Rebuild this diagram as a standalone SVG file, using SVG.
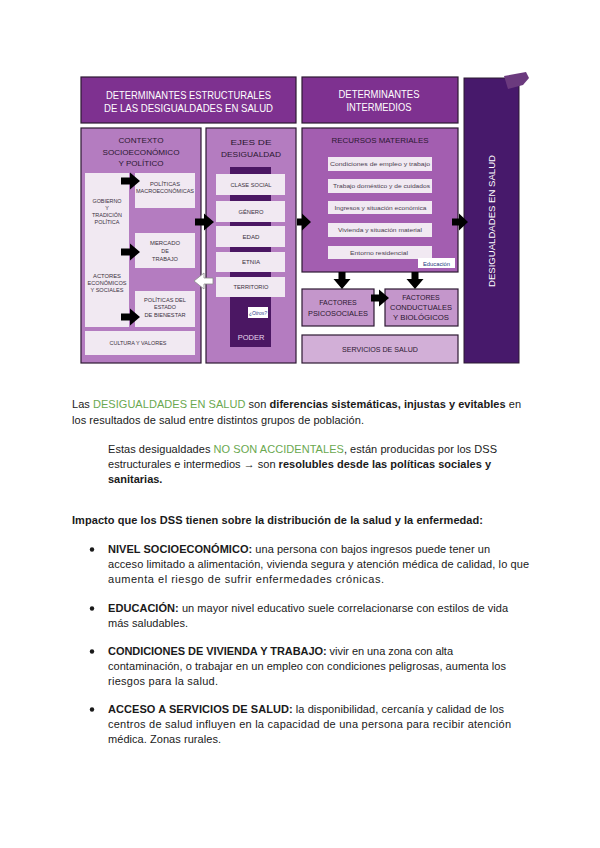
<svg xmlns="http://www.w3.org/2000/svg" width="600" height="848" viewBox="0 0 600 848">
<style>
.hdr{fill:#7e3190;stroke:#2d1a33;stroke-width:1.2}
.pan{fill:#b47cc0;stroke:#2d1a33;stroke-width:1.2}
.lt{fill:#f1e9f2}
.it{fill:#f1e9f2}
.dk{fill:#4b1763}
.rec{fill:#a35eb0;stroke:#2d1a33;stroke-width:1.2}
.fac{fill:#c496cb;stroke:#2d1a33;stroke-width:1.2}
.srv{fill:#d2afd7;stroke:#2d1a33;stroke-width:1.2}
.des{fill:#47196b;stroke:#2d1a33;stroke-width:1}
text{font-family:"Liberation Sans",Arial,sans-serif}
.ht{fill:#ffffff;font-size:10px;text-anchor:middle}
.pt{fill:#2b1730;font-size:8px;text-anchor:middle}
.st{fill:#3a3040;font-size:5.4px;text-anchor:middle}
.et{fill:#3a3040;font-size:5.8px;text-anchor:middle}
.rt{fill:#4a4050;font-size:5.8px;text-anchor:middle}
.ft{fill:#2b1730;font-size:7px;text-anchor:middle}
.body{fill:#1a1a1a;font-size:11px}
.g{fill:#6aa84f}
.b{font-weight:bold}
.arr{fill:#000000}
</style>
<rect width="600" height="848" fill="#ffffff"/>

<g id="header-estructurales">
<rect class="hdr" x="81" y="77" width="215" height="46"/>
<text class="ht" x="188.5" y="98.5" textLength="165" lengthAdjust="spacingAndGlyphs">DETERMINANTES ESTRUCTURALES</text>
<text class="ht" x="188.5" y="112" textLength="169" lengthAdjust="spacingAndGlyphs">DE LAS DESIGUALDADES EN SALUD</text>
</g>

<g id="header-intermedios">
<rect class="hdr" x="302" y="77" width="156" height="46"/>
<text class="ht" x="379" y="97.5" textLength="81" lengthAdjust="spacingAndGlyphs">DETERMINANTES</text>
<text class="ht" x="379" y="111" textLength="65" lengthAdjust="spacingAndGlyphs">INTERMEDIOS</text>
</g>

<g id="contexto">
<rect class="pan" x="81" y="128" width="120" height="235"/>
<text class="pt" x="141" y="143" textLength="45" lengthAdjust="spacingAndGlyphs">CONTEXTO</text>
<text class="pt" x="141" y="155" textLength="77" lengthAdjust="spacingAndGlyphs">SOCIOECONÓMICO</text>
<text class="pt" x="141" y="166" textLength="45" lengthAdjust="spacingAndGlyphs">Y POLÍTICO</text>
<rect class="lt" x="85" y="173" width="44" height="154"/>
<text class="st" x="107" y="203" textLength="29" lengthAdjust="spacingAndGlyphs">GOBIERNO</text>
<text class="st" x="107" y="210">Y</text>
<text class="st" x="107" y="217" textLength="30" lengthAdjust="spacingAndGlyphs">TRADICIÓN</text>
<text class="st" x="107" y="224" textLength="25" lengthAdjust="spacingAndGlyphs">POLÍTICA</text>
<text class="st" x="107" y="278" textLength="28" lengthAdjust="spacingAndGlyphs">ACTORES</text>
<text class="st" x="107" y="285" textLength="39" lengthAdjust="spacingAndGlyphs">ECONÓMICOS</text>
<text class="st" x="107" y="292" textLength="33" lengthAdjust="spacingAndGlyphs">Y SOCIALES</text>
</g>

<g id="politicas-macro">
<rect class="lt" x="135" y="173" width="60" height="35"/>
<text class="st" x="165" y="186" textLength="30" lengthAdjust="spacingAndGlyphs">POLÍTICAS</text>
<text class="st" x="165" y="193" textLength="58" lengthAdjust="spacingAndGlyphs">MACROECONÓMICAS</text>
</g>

<g id="mercado-trabajo">
<rect class="lt" x="135" y="233" width="60" height="35"/>
<text class="st" x="165" y="245" textLength="30" lengthAdjust="spacingAndGlyphs">MERCADO</text>
<text class="st" x="165" y="253">DE</text>
<text class="st" x="165" y="261" textLength="26" lengthAdjust="spacingAndGlyphs">TRABAJO</text>
</g>

<g id="politicas-bienestar">
<rect class="lt" x="135" y="291" width="60" height="36"/>
<text class="st" x="165" y="302" textLength="42" lengthAdjust="spacingAndGlyphs">POLÍTICAS DEL</text>
<text class="st" x="165" y="309" textLength="22" lengthAdjust="spacingAndGlyphs">ESTADO</text>
<text class="st" x="165" y="317" textLength="41" lengthAdjust="spacingAndGlyphs">DE BIENESTAR</text>
</g>

<g id="cultura-valores">
<rect class="lt" x="85" y="331" width="110" height="24"/>
<text class="st" x="138" y="345" textLength="57" lengthAdjust="spacingAndGlyphs">CULTURA Y VALORES</text>
</g>

<g id="ejes">
<rect class="pan" x="206" y="128" width="90" height="235"/>
<text class="pt" x="251" y="144.5" textLength="41" lengthAdjust="spacingAndGlyphs">EJES DE</text>
<text class="pt" x="251" y="156.5" textLength="60" lengthAdjust="spacingAndGlyphs">DESIGUALDAD</text>
<rect class="dk" x="230" y="167" width="41" height="180"/>
<rect class="it" x="216" y="174" width="69" height="21"/>
<text class="et" x="251" y="186.5" textLength="41" lengthAdjust="spacingAndGlyphs">CLASE SOCIAL</text>
<rect class="it" x="216" y="201" width="69" height="21"/>
<text class="et" x="251" y="213.5" textLength="25" lengthAdjust="spacingAndGlyphs">GÉNERO</text>
<rect class="it" x="216" y="226" width="69" height="21"/>
<text class="et" x="251" y="238.5" textLength="17" lengthAdjust="spacingAndGlyphs">EDAD</text>
<rect class="it" x="216" y="252" width="69" height="20"/>
<text class="et" x="251" y="264" textLength="18" lengthAdjust="spacingAndGlyphs">ETNIA</text>
<rect class="it" x="216" y="277" width="69" height="20"/>
<text class="et" x="251" y="289" textLength="35" lengthAdjust="spacingAndGlyphs">TERRITORIO</text>
<rect fill="#ffffff" x="248" y="307" width="20" height="11"/>
<text x="258" y="314.5" font-size="5" fill="#2a3a8a" text-anchor="middle" font-style="italic">¿Otros?</text>
<text x="251" y="340" font-size="7.5" fill="#e8d8ee" text-anchor="middle">PODER</text>
</g>

<g id="recursos-materiales">
<rect class="rec" x="302" y="128" width="156" height="144"/>
<text class="pt" x="380" y="143" textLength="97" lengthAdjust="spacingAndGlyphs">RECURSOS MATERIALES</text>
<rect class="it" x="328" y="157" width="104" height="14"/>
<text class="rt" x="380" y="166" textLength="100" lengthAdjust="spacingAndGlyphs">Condiciones de empleo y trabajo</text>
<rect class="it" x="328" y="179" width="104" height="14"/>
<text class="rt" x="381.5" y="188" textLength="97" lengthAdjust="spacingAndGlyphs">Trabajo doméstico y de cuidados</text>
<rect class="it" x="328" y="201" width="104" height="13"/>
<text class="rt" x="380.5" y="209.5" textLength="92" lengthAdjust="spacingAndGlyphs">Ingresos y situación económica</text>
<rect class="it" x="328" y="223" width="104" height="14"/>
<text class="rt" x="380" y="232" textLength="84" lengthAdjust="spacingAndGlyphs">Vivienda y situación material</text>
<rect class="it" x="328" y="246" width="104" height="13"/>
<text class="rt" x="379" y="254.5" textLength="58" lengthAdjust="spacingAndGlyphs">Entorno residencial</text>
<rect fill="#ffffff" x="418" y="258" width="37" height="10"/>
<text x="436.5" y="265.5" font-size="5.8" fill="#233a80" text-anchor="middle">Educación</text>
</g>

<g id="factores-psicosociales">
<rect class="fac" x="302" y="289" width="72" height="37"/>
<text class="ft" x="338" y="304.5">FACTORES</text>
<text class="ft" x="338" y="315.5" textLength="60" lengthAdjust="spacingAndGlyphs">PSICOSOCIALES</text>
</g>

<g id="factores-conductuales">
<rect class="fac" x="385" y="289" width="73" height="37"/>
<text class="ft" x="421" y="299.5">FACTORES</text>
<text class="ft" x="421" y="309.5" textLength="62" lengthAdjust="spacingAndGlyphs">CONDUCTUALES</text>
<text class="ft" x="421" y="319.5" textLength="56" lengthAdjust="spacingAndGlyphs">Y BIOLÓGICOS</text>
</g>

<g id="servicios-salud">
<rect class="srv" x="302" y="335" width="156" height="28"/>
<text class="ft" x="380" y="351.5" textLength="76" lengthAdjust="spacingAndGlyphs">SERVICIOS DE SALUD</text>
</g>

<g id="desigualdades-salud">
<rect class="des" x="464" y="78" width="55" height="285"/>
<polygon points="504,76 526,72 529,78 523,85 508,89" fill="#6b3a7e"/>
<text x="0" y="0" font-size="9" fill="#ffffff" text-anchor="middle" transform="translate(494.5,221) rotate(-90)" textLength="132" lengthAdjust="spacingAndGlyphs">DESIGUALDADES EN SALUD</text>
</g>

<g id="connectors">
<path class="arr" d="M121,177.5h9v-5l10,8.5l-10,8.5v-5h-9z"/>
<path class="arr" d="M121,248.5h9v-5l10,8.5l-10,8.5v-5h-9z"/>
<path class="arr" d="M121,313.5h9v-5l10,8.5l-10,8.5v-5h-9z"/>
<path class="arr" d="M195,218.5h9v-5l10,8.5l-10,8.5v-5h-9z"/>
<path class="arr" d="M297,218.5h5v-5l9,8.5l-9,8.5v-5h-5z"/>
<path class="arr" d="M452,218.5h7v-5l9,8.5l-9,8.5v-5h-7z"/>
<path class="arr" d="M338.5,272v7h-5l8.5,10l8.5,-10h-5v-7z"/>
<path class="arr" d="M411.5,272v7h-5l8.5,10l8.5,-10h-5v-7z"/>
<path class="arr" d="M371,294.5h8v-5l10,8.5l-10,8.5v-5h-8z"/>
<path d="M213,278h-9v-5l-10,8l10,8v-5h9z" fill="#ffffff" stroke="#8a8a8a" stroke-width="0.8"/>
</g>

<g id="text-body">
<text class="body" x="72" y="408" textLength="449" lengthAdjust="spacing">Las <tspan class="g">DESIGUALDADES EN SALUD</tspan> son <tspan class="b">diferencias sistemáticas, injustas y evitables</tspan> en</text>
<text class="body" x="72" y="424" textLength="292" lengthAdjust="spacing">los resultados de salud entre distintos grupos de población.</text>
<text class="body" x="108" y="453" textLength="389" lengthAdjust="spacing">Estas desigualdades <tspan class="g">NO SON ACCIDENTALES</tspan>, están producidas por los DSS</text>
<text class="body" x="108" y="468" textLength="383" lengthAdjust="spacing">estructurales e intermedios → son <tspan class="b">resolubles desde las políticas sociales y</tspan></text>
<text class="body b" x="108" y="483">sanitarias.</text>

<text class="body b" x="72" y="524" textLength="411" lengthAdjust="spacing">Impacto que los DSS tienen sobre la distribución de la salud y la enfermedad:</text>

<circle cx="92" cy="549.5" r="2.2" fill="#1a1a1a"/>
<text class="body" x="108" y="553" textLength="382" lengthAdjust="spacing"><tspan class="b">NIVEL SOCIOECONÓMICO:</tspan> una persona con bajos ingresos puede tener un</text>
<text class="body" x="108" y="568" textLength="421" lengthAdjust="spacing">acceso limitado a alimentación, vivienda segura y atención médica de calidad, lo que</text>
<text class="body" x="108" y="583" textLength="276" lengthAdjust="spacing">aumenta el riesgo de sufrir enfermedades crónicas.</text>

<circle cx="92" cy="608.5" r="2.2" fill="#1a1a1a"/>
<text class="body" x="108" y="612" textLength="400" lengthAdjust="spacing"><tspan class="b">EDUCACIÓN:</tspan> un mayor nivel educativo suele correlacionarse con estilos de vida</text>
<text class="body" x="108" y="627" textLength="80" lengthAdjust="spacing">más saludables.</text>

<circle cx="92" cy="651.5" r="2.2" fill="#1a1a1a"/>
<text class="body" x="108" y="655" textLength="345" lengthAdjust="spacing"><tspan class="b">CONDICIONES DE VIVIENDA Y TRABAJO:</tspan> vivir en una zona con alta</text>
<text class="body" x="108" y="670" textLength="398" lengthAdjust="spacing">contaminación, o trabajar en un empleo con condiciones peligrosas, aumenta los</text>
<text class="body" x="108" y="685" textLength="110" lengthAdjust="spacing">riesgos para la salud.</text>

<circle cx="92" cy="709.5" r="2.2" fill="#1a1a1a"/>
<text class="body" x="108" y="713" textLength="396" lengthAdjust="spacing"><tspan class="b">ACCESO A SERVICIOS DE SALUD:</tspan> la disponibilidad, cercanía y calidad de los</text>
<text class="body" x="108" y="728" textLength="403" lengthAdjust="spacing">centros de salud influyen en la capacidad de una persona para recibir atención</text>
<text class="body" x="108" y="743" textLength="113" lengthAdjust="spacing">médica. Zonas rurales.</text>
</g>
</svg>
